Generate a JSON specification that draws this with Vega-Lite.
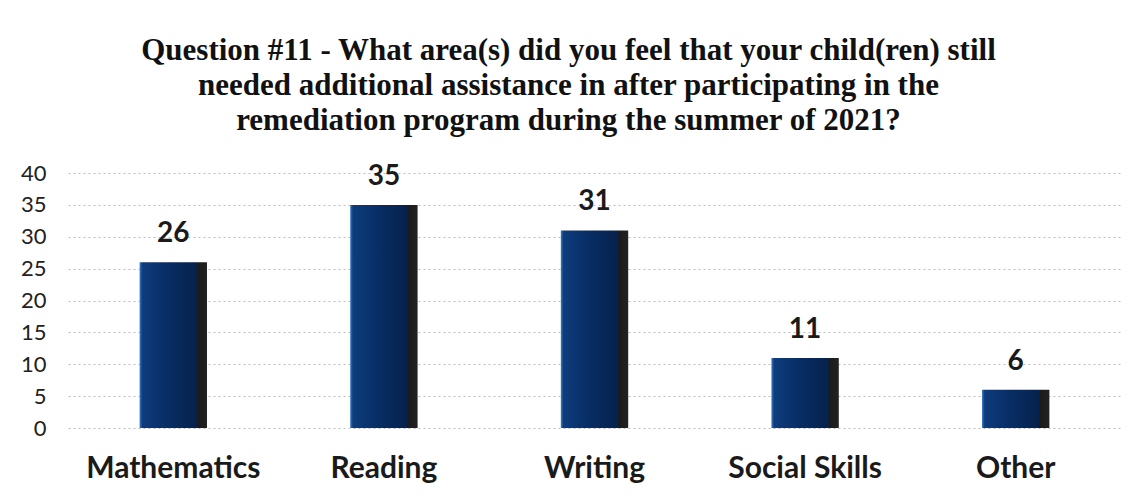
{
  "$schema": "https://vega.github.io/schema/vega-lite/v6.json",
  "width": 1053,
  "height": 255,
  "autosize": {"type": "none"},
  "padding": {"left": 68, "top": 173, "right": 20, "bottom": 70},
  "background": "white",
  "title": {
    "text": ["Question #11 - What area(s) did you feel that your child(ren) still", "needed additional assistance in after participating in the", "remediation program during the summer of 2021?"],
    "font": "Liberation Serif",
    "fontSize": 31,
    "fontWeight": "bold",
    "color": "#111111",
    "lineHeight": 35,
    "anchor": "middle",
    "offset": 25,
    "dx": -26
  },
  "data": {
    "values": [
      {"area": "Mathematics", "count": 26},
      {"area": "Reading", "count": 35},
      {"area": "Writing", "count": 31},
      {"area": "Social Skills", "count": 11},
      {"area": "Other", "count": 6}
    ]
  },
  "config": {
    "view": {"stroke": null},
    "axis": {"domain": false, "ticks": false}
  },
  "encoding": {
    "x": {
      "field": "area",
      "type": "nominal",
      "sort": null,
      "scale": {"paddingInner": 0.68, "paddingOuter": 0.34},
      "axis": {
        "title": null,
        "labelAngle": 0,
        "labelFont": "Lato",
        "labelFontSize": 30,
        "labelFontWeight": "bold",
        "labelColor": "#1a1a1a",
        "labelPadding": 25,
        "grid": false
      }
    },
    "y": {
      "field": "count",
      "type": "quantitative",
      "scale": {"domain": [0, 40], "nice": false},
      "axis": {
        "title": null,
        "values": [0, 5, 10, 15, 20, 25, 30, 35, 40],
        "labelFont": "Lato",
        "labelFontSize": 22,
        "labelColor": "#222222",
        "labelPadding": 22,
        "grid": true,
        "gridColor": "#bcbcbc",
        "gridDash": [2, 3],
        "gridWidth": 1
      }
    }
  },
  "layer": [
    {
      "mark": {
        "type": "bar",
        "color": {
          "gradient": "linear",
          "x1": 0, "y1": 0, "x2": 1, "y2": 0,
          "stops": [
            {"offset": 0, "color": "#3a7cc4"},
            {"offset": 0.04, "color": "#0e3c7c"},
            {"offset": 0.4, "color": "#082e66"},
            {"offset": 0.84, "color": "#06224c"},
            {"offset": 0.86, "color": "#1b1b1b"},
            {"offset": 1, "color": "#222222"}
          ]
        }
      }
    },
    {
      "mark": {
        "type": "text",
        "font": "Lato",
        "fontSize": 28,
        "fontWeight": "bold",
        "color": "#1a1a1a",
        "baseline": "alphabetic",
        "dy": -20
      },
      "encoding": {"text": {"field": "count", "type": "quantitative"}}
    }
  ]
}
